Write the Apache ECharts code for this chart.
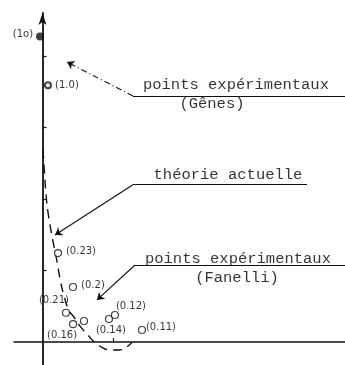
<!DOCTYPE html>
<html>
<head>
<meta charset="utf-8">
<script src="https://cdn.jsdelivr.net/npm/echarts@6/dist/echarts.min.js"></script>
<style>
  html, body { margin: 0; padding: 0; background: #fff; }
  #chart { width: 345px; height: 365px; }
</style>
</head>
<body>
<div id="chart"></div>
<script>
// Gênes measurements: [x, y] and their annotations
const genesPoints = [[-0.035, 4.27], [0.077, 3.59]];
const genesLabels = ['(1o)', '(1.0)'];

// Fanelli measurements
const fanelliPoints = [
  [0.218, 1.245], [0.428, 0.77], [0.33, 0.41], [0.43, 0.25],
  [0.583, 0.295], [0.934, 0.323], [1.018, 0.379], [1.398, 0.169]
];
const fanelliLabels = ['(0.23)', '(0.2)', '(0.21)', '(0.16)', '', '(0.14)', '(0.12)', '(0.11)'];

// Current theory curve
const theoryCurve = [
  [0.007, 2.69], [0.03, 2.34], [0.05, 2.06], [0.08, 1.80], [0.14, 1.45],
  [0.20, 1.15], [0.25, 0.87], [0.31, 0.62], [0.37, 0.45], [0.45, 0.34],
  [0.53, 0.22], [0.63, 0.11], [0.73, 0.0], [0.83, -0.07], [0.96, -0.11],
  [1.08, -0.11], [1.18, -0.07], [1.26, 0.0]
];

// Annotation captions and their anchor points
const captionTexts = ['points expérimentaux', '(Gênes)', 'théorie actuelle', 'points expérimentaux', '(Fanelli)'];
const captionAnchors = [[2.718, 3.594], [2.381, 3.327], [2.606, 2.336], [2.746, 1.162], [2.733, 0.896]];

// Leader lines: underline under each caption, then a pointer to the marks
const underlines = [
  [[4.25, 3.44], [1.271, 3.44]],
  [[3.716, 2.20], [1.271, 2.20]],
  [[4.25, 1.078], [1.30, 1.078]]
];
const pointers = [
  [[1.271, 3.44], [0.344, 3.915]],
  [[1.271, 2.20], [0.176, 1.497]],
  [[1.30, 1.078], [0.766, 0.589]]
];

// Tick positions along the axes
const yTicks = [1, 2, 3, 4];
const xTicks = [1];

// Label offsets (px) around each measured point
const genesOffsets = [[-17, -2], [19, 0]];
const fanelliOffsets = [[23, -2], [20, -2], [-12, -12], [-11, 11], [0, 0], [2, 11], [16, -9], [19, -3]];

const chart = echarts.init(document.getElementById('chart'), null, { renderer: 'canvas' });

const smallFont = { fontFamily: 'DejaVu Sans', fontSize: 10, color: '#000' };
const captionFont = { fontFamily: 'Liberation Mono', fontSize: 15.5, color: '#000' };

chart.setOption({
  backgroundColor: '#fff',
  animation: false,
  grid: { left: 14, right: 0, top: 13, bottom: 0, containLabel: false },
  xAxis: {
    type: 'value', min: -0.4, max: 4.25,
    splitLine: { show: false },
    axisLine: { onZero: true, lineStyle: { color: '#111', width: 1.5 } },
    axisTick: { show: true, inside: true, length: 4, customValues: xTicks, lineStyle: { color: '#111', width: 1.2 } },
    axisLabel: { show: false }
  },
  yAxis: {
    type: 'value', min: -0.32, max: 4.6,
    splitLine: { show: false },
    axisLine: { onZero: true, symbol: ['none', 'arrow'], symbolSize: [6, 12], lineStyle: { color: '#111', width: 1.8 } },
    axisTick: { show: true, inside: true, length: 4, customValues: yTicks, lineStyle: { color: '#111', width: 1.2 } },
    axisLabel: { show: false }
  },
  series: [
    {
      name: 'théorie actuelle',
      type: 'line',
      data: theoryCurve,
      smooth: true,
      showSymbol: false,
      lineStyle: { color: '#111', width: 1.4, type: [9, 6] },
      z: 2
    },
    {
      name: 'Gênes',
      type: 'scatter',
      symbol: 'circle',
      data: genesPoints.map((p, i) => ({
        value: p,
        symbolSize: i === 0 ? 8 : 6,
        itemStyle: i === 0 ? { color: '#111' } : { color: '#fff', borderColor: '#111', borderWidth: 2 },
        label: { show: true, position: 'inside', offset: genesOffsets[i], formatter: genesLabels[i], ...smallFont }
      })),
      z: 4
    },
    {
      name: 'Fanelli',
      type: 'scatter',
      symbol: 'circle',
      symbolSize: 7,
      itemStyle: { color: '#fff', borderColor: '#111', borderWidth: 1.2 },
      data: fanelliPoints.map((p, i) => ({
        value: p,
        label: { show: fanelliLabels[i] !== '', position: 'inside', offset: fanelliOffsets[i], formatter: fanelliLabels[i], ...smallFont }
      })),
      z: 4
    },
    {
      name: 'leaders',
      type: 'lines',
      coordinateSystem: 'cartesian2d',
      polyline: false,
      silent: true,
      data: underlines.map(c => ({ coords: c, symbol: ['none', 'none'], lineStyle: { color: '#111', width: 1.2, type: 'solid' } }))
        .concat(pointers.map((c, i) => ({
          coords: c,
          symbol: ['none', 'arrow'],
          symbolSize: 7,
          lineStyle: { color: '#111', width: 1.1, type: i === 0 ? [6, 3, 1, 3] : 'solid' }
        }))),
      lineStyle: { opacity: 1 },
      z: 3
    },
    {
      name: 'captions',
      type: 'scatter',
      symbolSize: 0,
      silent: true,
      data: captionAnchors.map((p, i) => ({
        value: p,
        label: { show: true, position: 'inside', formatter: captionTexts[i], ...captionFont }
      })),
      z: 5
    }
  ]
});
</script>
</body>
</html>
